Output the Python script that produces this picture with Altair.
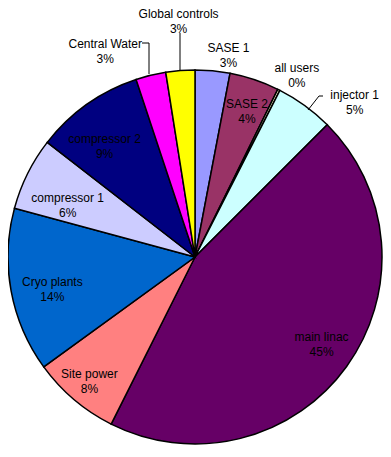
import math
import altair as alt
import pandas as pd

# ---- data ----
categories = ["SASE 1", "SASE 2", "all users", "injector 1", "main linac", "Site power",
              "Cryo plants", "compressor 1", "compressor 2", "Central Water", "Global controls"]
values = [3.0, 4.3, 0.2, 5.0, 44.9, 7.6, 14.2, 6.3, 9.4, 2.6, 2.5]
pct_labels = ["3%", "4%", "0%", "5%", "45%", "8%", "14%", "6%", "9%", "3%", "3%"]
colors = ["#9999FF", "#993366", "#FFFFCC", "#CCFFFF", "#660066", "#FF8080",
          "#0066CC", "#CCCCFF", "#000080", "#FF00FF", "#FFFF00"]

# ---- label layout (angle as % of full turn, radius in px) ----
label_angle = [2.6, 5.4, 8.1, 12.7, 34.5, 61.3, 71.6, 81.3, 89.2, 93.5, 98.9]
label_radius = [206, 156, 209, 223, 153, 162, 146, 138, 144, 226, 238]

CX, CY, R = 187, 249, 187

df = pd.DataFrame({
    "idx": list(range(len(categories))),
    "category": categories,
    "value": values,
    "label": [c + "\n" + p for c, p in zip(categories, pct_labels)],
    "angle": label_angle,
    "r": label_radius,
})

# leader lines (layout only)
leaders = pd.DataFrame({
    "x": [172, 134, 141, 300, 311],
    "y": [25, 35, 35, 102, 88],
    "x2": [172, 141, 141, 311, 315],
    "y2": [62, 35, 66, 88, 88],
})

theta_scale = alt.Scale(domain=[0, 100], range=[0, 2 * math.pi])

arcs = alt.Chart(df).mark_arc(stroke="black", strokeWidth=1.5, outerRadius=R).encode(
    theta=alt.Theta("value:Q", stack=True, scale=theta_scale),
    order=alt.Order("idx:Q"),
    color=alt.Color("category:N", scale=alt.Scale(domain=categories, range=colors), legend=None),
    x=alt.value(CX),
    y=alt.value(CY),
)

labels = alt.Chart(df).mark_text(
    lineBreak="\n", fontSize=12, font="Liberation Sans", lineHeight=15,
    align="center", baseline="middle", color="black", dy=-6
).encode(
    theta=alt.Theta("angle:Q", stack=False, scale=theta_scale),
    radius=alt.Radius("r:Q", scale=None),
    text="label:N",
    x=alt.value(CX),
    y=alt.value(CY),
)

lines = alt.Chart(leaders).mark_rule(color="black", strokeWidth=1).encode(
    x=alt.X("x:Q", scale=None), y=alt.Y("y:Q", scale=None),
    x2="x2:Q", y2="y2:Q",
)

chart = alt.layer(arcs, lines, labels).properties(
    width=375, height=441, padding=0,
    autosize=alt.AutoSizeParams(type="none"),
).configure_view(stroke=None)

chart.save("out.html", embed_options={"renderer": "svg", "actions": False})
